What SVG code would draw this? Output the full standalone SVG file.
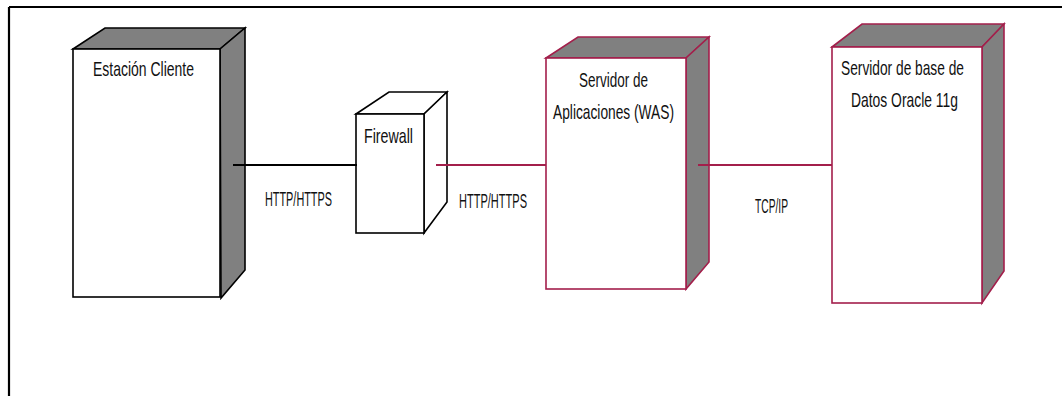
<svg xmlns="http://www.w3.org/2000/svg" width="1062" height="396" viewBox="0 0 1062 396">
  <style>
    .lbl { font-family: "Liberation Sans", Arial, sans-serif; font-size: 21px; fill: #111; }
    .face { fill: #ffffff; }
    .shade { fill: #808080; }
    .blk { stroke: #000; stroke-width: 1.6; stroke-linejoin: miter; }
    .red { stroke: #a31f4b; stroke-width: 1.6; stroke-linejoin: miter; }
    .wire-k { stroke: #000; stroke-width: 2; fill: none; }
    .wire-r { stroke: #a31f4b; stroke-width: 2; fill: none; }
  </style>

  <rect x="0" y="0" width="1062" height="396" fill="#ffffff"/>

  <!-- page frame: top and left rules -->
  <path d="M9 7 H1062 M9 7 V396" stroke="#000" stroke-width="2.2" fill="none"/>

  <!-- client workstation -->
  <g id="estacion-cliente">
    <polygon class="shade blk" points="73,49 105,28 245,28 220,49"/>
    <polygon class="shade blk" points="220,49 245,28 245,270 221,298"/>
    <rect class="face blk" x="73" y="49" width="147" height="248"/>
    <text class="lbl" x="93" y="76" textLength="101" lengthAdjust="spacingAndGlyphs">Estación Cliente</text>
  </g>

  <!-- firewall -->
  <g id="firewall">
    <polygon class="face blk" points="356,114 389,92 447,92 424,114"/>
    <polygon class="face blk" points="424,114 447,92 447,202 424,233"/>
    <rect class="face blk" x="356" y="114" width="68" height="119"/>
    <text class="lbl" x="364" y="143" textLength="49" lengthAdjust="spacingAndGlyphs">Firewall</text>
  </g>

  <!-- application server -->
  <g id="servidor-aplicaciones">
    <polygon class="shade red" points="546,58 578,37 709,37 686,58"/>
    <polygon class="shade red" points="686,58 709,37 709,262 686,289"/>
    <rect class="face red" x="546" y="58" width="140" height="231"/>
    <text class="lbl" x="579" y="87" textLength="69" lengthAdjust="spacingAndGlyphs">Servidor de</text>
    <text class="lbl" x="553" y="119" textLength="121" lengthAdjust="spacingAndGlyphs">Aplicaciones (WAS)</text>
  </g>

  <!-- database server -->
  <g id="servidor-bd">
    <polygon class="shade red" points="832,47 862,24 1004,24 982,47"/>
    <polygon class="shade red" points="982,47 1004,24 1004,271 982,303"/>
    <rect class="face red" x="832" y="47" width="150" height="256"/>
    <text class="lbl" x="841" y="75" textLength="123" lengthAdjust="spacingAndGlyphs">Servidor de base de</text>
    <text class="lbl" x="851" y="107" textLength="107" lengthAdjust="spacingAndGlyphs">Datos Oracle 11g</text>
  </g>

  <!-- connectors -->
  <g id="connectors">
    <line class="wire-k" x1="233" y1="165" x2="357" y2="165"/>
    <line class="wire-r" x1="436" y1="165" x2="546" y2="165"/>
    <line class="wire-r" x1="698" y1="165" x2="832" y2="165"/>
    <text class="lbl" x="265" y="206" textLength="67" lengthAdjust="spacingAndGlyphs">HTTP/HTTPS</text>
    <text class="lbl" x="459" y="208" textLength="68" lengthAdjust="spacingAndGlyphs">HTTP/HTTPS</text>
    <text class="lbl" x="755" y="213" textLength="33" lengthAdjust="spacingAndGlyphs">TCP/IP</text>
  </g>
</svg>
